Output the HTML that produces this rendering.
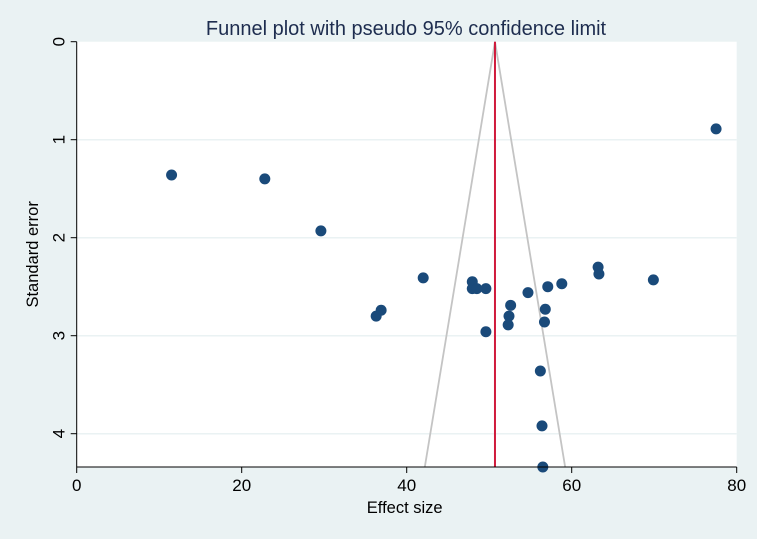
<!DOCTYPE html>
<html><head><meta charset="utf-8"><style>
body{margin:0;background:#eaf2f3;font-family:"Liberation Sans",sans-serif;overflow:hidden;}
</style></head><body>
<svg id="chart" width="757" height="539" xmlns="http://www.w3.org/2000/svg" style="display:block">
<rect width="757" height="539" fill="#eaf2f3"/>
<text x="406" y="35" text-anchor="middle" font-size="20" fill="#1e2d4f" font-family="Liberation Sans, sans-serif">Funnel plot with pseudo 95% confidence limit</text>
<g id="plot"></g>
</svg>
<script>
const effectSizes=[11.5,22.8,29.6,77.5,42.0,47.95,47.95,48.5,49.6,36.3,36.9,49.6,52.6,52.4,52.3,54.7,57.1,58.8,56.8,56.7,63.2,63.3,56.2,56.4,56.5,69.9];
const stdErrors=[1.36,1.40,1.93,0.89,2.41,2.45,2.52,2.52,2.52,2.80,2.74,2.96,2.69,2.80,2.89,2.56,2.50,2.47,2.73,2.86,2.30,2.37,3.36,3.92,4.34,2.43];
const pooledEffect=50.7;
const seMax=4.34;
const xTicks=[0,20,40,60,80];
const yTicks=[0,1,2,3,4];
const NS="http://www.w3.org/2000/svg";
const g=document.getElementById('plot');
const X0=76.7,XS=8.25,Y0=41.7,YS=98;
const sx=v=>X0+v*XS, sy=v=>Y0+v*YS;
function mk(t,a){const e=document.createElementNS(NS,t);for(const k in a)e.setAttribute(k,a[k]);g.appendChild(e);return e;}
const yBot=sy(seMax), xL=sx(0), xR=sx(80);
let r=mk('rect',{x:xL,y:Y0,width:xR-xL,height:yBot-Y0,fill:'#fff'});


yTicks.forEach(t=>{
  if(t>0){let l=mk('line',{x1:xL,x2:xR,y1:sy(t),y2:sy(t),stroke:'#eaf2f3','stroke-width':1.5});
  
  }
  let tk=mk('line',{x1:xL-6,x2:xL,y1:sy(t),y2:sy(t),stroke:'#000'});
  
  
  let tx=mk('text',{x:0,y:0,transform:`translate(${xL-12},${sy(t)}) rotate(-90)`,'text-anchor':'middle','font-size':17,fill:'#000'});
  tx.textContent=t;
  
  
});
xTicks.forEach(t=>{
  let tk=mk('line',{x1:sx(t),x2:sx(t),y1:yBot,y2:yBot+6,stroke:'#000'});
  
  
  let tx=mk('text',{x:sx(t),y:yBot+24,'text-anchor':'middle','font-size':17,fill:'#000'});
  tx.textContent=t;
  
  
});
const hw=1.96*seMax;
let f=mk('polyline',{points:`${sx(pooledEffect-hw)},${yBot} ${sx(pooledEffect)},${sy(0)} ${sx(pooledEffect+hw)},${yBot}`,fill:'none',stroke:'#c4c4c4','stroke-width':1.8});


let rl=mk('line',{x1:sx(pooledEffect),x2:sx(pooledEffect),y1:sy(0),y2:yBot,stroke:'#d01a3c','stroke-width':2});


effectSizes.forEach((v,i)=>{
  let c=mk('circle',{cx:sx(v),cy:sy(stdErrors[i]),r:5.5,fill:'#1a4a7a'});
  
  
});
let ax=mk('line',{x1:xL,x2:xR,y1:yBot,y2:yBot,stroke:'#000'});


let ay=mk('line',{x1:xL,x2:xL,y1:Y0,y2:yBot,stroke:'#000'});


let xt=mk('text',{x:(xL+xR)/2-2,y:513,'text-anchor':'middle','font-size':16.5,fill:'#000'});
xt.textContent='Effect size';


let yt=mk('text',{x:0,y:0,transform:`translate(38,${(Y0+yBot)/2}) rotate(-90)`,'text-anchor':'middle','font-size':16.5,fill:'#000'});
yt.textContent='Standard error';


</script>
</body></html>
